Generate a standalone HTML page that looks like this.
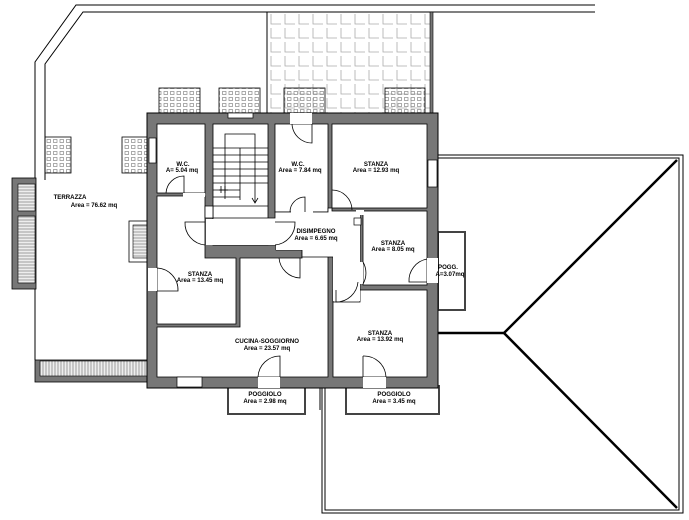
<!DOCTYPE html>
<html><head><meta charset="utf-8"><style>
html,body{margin:0;padding:0;background:#fff;}
svg{display:block;}
text{font-family:"Liberation Sans",sans-serif;font-size:6.1px;font-weight:bold;fill:#000;text-anchor:middle;}
</style></head><body>
<svg width="689" height="520" viewBox="0 0 689 520" xmlns="http://www.w3.org/2000/svg">
<defs>
<pattern id="tile" x="268" y="12" width="14" height="14" patternUnits="userSpaceOnUse">
<path d="M3 2 V12 H13" fill="none" stroke="#aaa" stroke-width="0.8"/>
</pattern>
<pattern id="pl" x="0" y="0" width="6.5" height="6" patternUnits="userSpaceOnUse">
<rect x="1.5" y="1.5" width="3.5" height="3" fill="none" stroke="#888" stroke-width="0.7"/>
</pattern>
<pattern id="hh" x="0" y="0" width="3" height="3" patternUnits="userSpaceOnUse">
<rect width="3" height="3" fill="#eee"/><line x1="0" y1="1" x2="3" y2="1" stroke="#888" stroke-width="0.8"/>
</pattern>
<pattern id="hv" x="0" y="0" width="3" height="3" patternUnits="userSpaceOnUse">
<rect width="3" height="3" fill="#eee"/><line x1="1" y1="0" x2="1" y2="3" stroke="#888" stroke-width="0.8"/>
</pattern>
</defs>
<g fill="none" stroke="#000" stroke-width="1">
<polyline points="35,180 35,62 76,5 595,5"/>
<polyline points="45,180 45,64 83,12 595,12"/>
<line x1="35" y1="288" x2="35" y2="360"/>
</g>
<rect x="268" y="12" width="164" height="101" fill="url(#tile)"/>
<line x1="267" y1="12" x2="267" y2="113" stroke="#000"/>
<rect x="430" y="12" width="3" height="101" fill="#777" stroke="#000" stroke-width="0.6"/>
<g stroke="#000" stroke-width="0.8">
<rect x="159" y="88" width="41" height="25" fill="url(#pl)"/>
<rect x="219" y="88" width="41" height="25" fill="url(#pl)"/>
<rect x="284" y="88" width="41" height="25" fill="url(#pl)"/>
<rect x="385" y="88" width="40" height="25" fill="url(#pl)"/>
<rect x="45" y="137" width="26" height="36" fill="url(#pl)"/>
<rect x="122" y="137" width="25" height="36" fill="url(#pl)"/>
</g>
<rect x="12" y="178" width="24" height="111" fill="#777" stroke="#000" stroke-width="0.8"/>
<rect x="18" y="184" width="17" height="27" fill="url(#hh)" stroke="#000" stroke-width="0.6"/>
<rect x="18" y="216" width="17" height="67" fill="url(#hh)" stroke="#000" stroke-width="0.6"/>
<rect x="35" y="360" width="113" height="22" fill="#777" stroke="#000" stroke-width="0.8"/>
<rect x="40" y="361" width="107" height="15" fill="url(#hv)" stroke="#000" stroke-width="0.6"/>
<rect x="129" y="221" width="18" height="41" fill="#fff" stroke="#000" stroke-width="0.8"/>
<rect x="133" y="225" width="14" height="33" fill="url(#hh)" stroke="#000" stroke-width="0.6"/>
<g fill="none" stroke="#000">
<polyline points="438,155 683,155 683,513 322,513 322,388"/>
<polyline points="438,158 679,158 679,510 325,510 325,388"/>
<polyline points="677,160 504,333 677,508" stroke-width="2.5"/>
<line x1="438" y1="333" x2="504" y2="333" stroke-width="2.5"/>
<line x1="320" y1="388" x2="320" y2="410"/>
</g>
<g fill="#fff" stroke="#444" stroke-width="2">
<rect x="438" y="232" width="27" height="78"/>
<rect x="228" y="386" width="77" height="28"/>
<rect x="346" y="386" width="93" height="28"/>
</g>
<rect x="147" y="113" width="291" height="275" fill="#777" stroke="#000" stroke-width="1"/>
<g fill="#fff" stroke="#000" stroke-width="0.8">
<rect x="157" y="124" width="48" height="69"/>
<rect x="213" y="124" width="55" height="121"/>
<rect x="275" y="124" width="53" height="88"/>
<rect x="332" y="124" width="95" height="84"/>
<rect x="363" y="211" width="64" height="74"/>
<polygon points="157,196 205,196 205,258 236,258 236,324 157,324"/>
<polygon points="240,258 302,258 302,252 330,252 328,252 328,377 157,377 157,327 240,327"/>
<rect x="333" y="290" width="94" height="87"/>
<polygon points="275,212 328,212 328,208 332,208 332,211 360,211 360,290 360,302 333,302 333,257 302,257 302,250 276,250 276,245 213,245 213,218 205,218 205,206 213,206 213,218 275,218"/>
</g>
<rect x="206" y="219" width="69" height="26" fill="#fff"/>
<rect x="276" y="213" width="52" height="37" fill="#fff"/>
<rect x="333" y="212" width="27" height="89" fill="#fff"/>
<g stroke="#000" stroke-width="0.8" fill="none">
<polyline points="225,199 225,134 255,134 255,202"/>
<line x1="240" y1="148" x2="240" y2="200"/>
<line x1="213" y1="148" x2="268" y2="148"/>
<line x1="213" y1="155" x2="268" y2="155"/>
<line x1="213" y1="162" x2="268" y2="162"/>
<line x1="213" y1="169" x2="268" y2="169"/>
<line x1="213" y1="176" x2="268" y2="176"/>
<line x1="213" y1="183" x2="268" y2="183"/>
<line x1="213" y1="190" x2="240" y2="190"/>
<line x1="213" y1="197" x2="240" y2="197"/>
<line x1="213" y1="206" x2="268" y2="206"/>
<path d="M252,198 L255,203 L258,198"/>
<line x1="221" y1="186" x2="221" y2="193"/><line x1="225" y1="186" x2="225" y2="193"/>
<line x1="219" y1="190" x2="228" y2="190"/>
</g>
<g fill="#fff" stroke="#000" stroke-width="0.7">
<rect x="228" y="113" width="25" height="5"/>
<rect x="149" y="138" width="7" height="25"/>
<rect x="428" y="160" width="9" height="27"/>
<rect x="177" y="377" width="25" height="10"/>
<rect x="148" y="268" width="9" height="23" stroke="none"/>
<rect x="258" y="377" width="22" height="11" stroke="none"/>
<rect x="363" y="377" width="23" height="11" stroke="none"/>
<rect x="290" y="113" width="22" height="11" stroke="none"/>
<rect x="427" y="258" width="11" height="25" stroke="none"/>
<rect x="183" y="193" width="22" height="4" stroke="none"/>
<rect x="291" y="209" width="22" height="4" stroke="none"/>
<rect x="356" y="210" width="8" height="5" stroke="none"/>
<rect x="360" y="262" width="3" height="22" stroke="none"/>
<rect x="354" y="218" width="7" height="7"/>
</g>
<g fill="none" stroke="#000" stroke-width="0.8">
<path d="M157,268 A22,22 0 0 1 178,291 L157,291"/>
<path d="M166,193 A18,18 0 0 1 184,176 L184,193"/>
<path d="M312,124 L312,143 A20,20 0 0 1 292,124"/>
<path d="M290,212 A15,15 0 0 1 305,197 L305,212"/>
<path d="M332,190 A20,20 0 0 1 352,210"/>
<path d="M205,222 L185,222 A22,22 0 0 0 205,245"/>
<path d="M275,222 L295,222 A22,22 0 0 1 275,245"/>
<path d="M279,258 A22,22 0 0 0 300,278 L300,258"/>
<path d="M363,262 A22,22 0 0 1 363,284"/>
<path d="M336,290 L336,302 A22,22 0 0 0 358,282"/>
<path d="M427,259 A22,22 0 0 0 409,282 L427,282"/>
<path d="M258,377 A22,22 0 0 1 280,356 L280,377"/>
<path d="M363,356 A22,22 0 0 1 386,377 M363,356 L363,377"/>
</g>
<text x="70" y="199">TERRAZZA</text><text x="94" y="207">Area = 76.62 mq</text>
<text x="183" y="166">W.C.</text><text x="182" y="172">A= 5.04 mq</text>
<text x="298" y="166">W.C.</text><text x="300" y="172">Area = 7.84 mq</text>
<text x="376" y="166">STANZA</text><text x="376" y="172">Area = 12.93 mq</text>
<text x="316" y="233">DISIMPEGNO</text><text x="316" y="240">Area = 6.65 mq</text>
<text x="393" y="245">STANZA</text><text x="393" y="251">Area = 8.05 mq</text>
<text x="448" y="269">POGG.</text><text x="450" y="276">A=3.07mq</text>
<text x="200" y="276">STANZA</text><text x="200" y="282">Area = 13.45 mq</text>
<text x="267" y="343">CUCINA-SOGGIORNO</text><text x="267" y="350">Area = 23.57 mq</text>
<text x="380" y="335">STANZA</text><text x="380" y="341">Area = 13.92 mq</text>
<text x="265" y="396">POGGIOLO</text><text x="265" y="403">Area = 2.98 mq</text>
<text x="394" y="396">POGGIOLO</text><text x="394" y="403">Area = 3.45 mq</text>
</svg>
</body></html>
